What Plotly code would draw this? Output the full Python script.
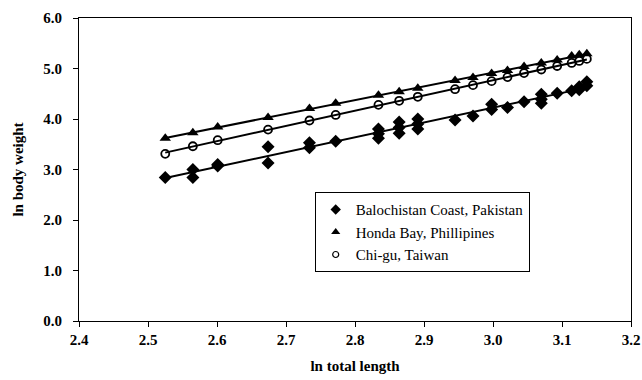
import numpy as np
import plotly.graph_objects as go

# Balochistan Coast, Pakistan
bal_x = [2.525, 2.565, 2.565, 2.601, 2.601, 2.674, 2.674, 2.734, 2.734, 2.772,
         2.834, 2.834, 2.834, 2.864, 2.864, 2.864, 2.891, 2.891, 2.891, 2.945,
         2.971, 2.998, 2.998, 3.021, 3.045, 3.070, 3.070, 3.070, 3.093, 3.114,
         3.125, 3.125, 3.136, 3.136]
bal_y = [2.84, 3.00, 2.84, 3.10, 3.07, 3.45, 3.13, 3.53, 3.43, 3.56,
         3.80, 3.71, 3.62, 3.94, 3.83, 3.72, 4.00, 3.90, 3.80, 3.98,
         4.06, 4.29, 4.19, 4.23, 4.34, 4.49, 4.39, 4.31, 4.51, 4.56,
         4.64, 4.58, 4.74, 4.66]

# Honda Bay, Phillipines
hon_x = [2.525, 2.565, 2.601, 2.674, 2.734, 2.772, 2.834, 2.864, 2.891, 2.945,
         2.971, 2.998, 3.021, 3.045, 3.070, 3.093, 3.114, 3.125, 3.136]
hon_y = [3.62, 3.73, 3.84, 4.03, 4.21, 4.31, 4.47, 4.54, 4.61, 4.76,
         4.82, 4.90, 4.96, 5.04, 5.11, 5.17, 5.25, 5.27, 5.29]

# Chi-gu, Taiwan
chi_x = hon_x
chi_y = [3.31, 3.46, 3.58, 3.79, 3.97, 4.08, 4.28, 4.36, 4.44, 4.59,
         4.67, 4.75, 4.83, 4.91, 4.98, 5.05, 5.11, 5.15, 5.19]

series_names = ["Balochistan Coast, Pakistan", "Honda Bay, Phillipines", "Chi-gu, Taiwan"]

x_ticks = [2.4, 2.5, 2.6, 2.7, 2.8, 2.9, 3.0, 3.1, 3.2]
x_tick_labels = ["2.4", "2.5", "2.6", "2.7", "2.8", "2.9", "3.0", "3.1", "3.2"]
y_ticks = [0, 1, 2, 3, 4, 5, 6]
y_tick_labels = ["0.0", "1.0", "2.0", "3.0", "4.0", "5.0", "6.0"]

SERIF = "Liberation Serif, Times New Roman, serif"

fig = go.Figure()

def add_fit(xs, ys):
    xs = np.asarray(xs); ys = np.asarray(ys)
    b, a = np.polyfit(xs, ys, 1)
    lx = np.array([xs.min(), xs.max()])
    fig.add_trace(go.Scatter(x=lx, y=a + b * lx, mode="lines",
                             line=dict(color="black", width=2),
                             showlegend=False, hoverinfo="skip"))

add_fit(bal_x, bal_y)
add_fit(hon_x, hon_y)
add_fit(chi_x, chi_y)

styles = [
    dict(symbol="diamond", size=10, color="black"),
    dict(symbol="triangle-up", size=10, color="black"),
    dict(symbol="circle-open", size=8, color="black", line=dict(width=1.8, color="black")),
]
legend_styles = [
    dict(symbol="diamond", size=8, color="black"),
    dict(symbol="triangle-up", size=8, color="black"),
    dict(symbol="circle-open", size=6, color="black", line=dict(width=1.2, color="black")),
]

for (xs, ys), name, st in zip([(bal_x, bal_y), (hon_x, hon_y), (chi_x, chi_y)],
                              series_names, styles):
    fig.add_trace(go.Scatter(x=xs, y=ys, mode="markers", name=name,
                             marker=st, showlegend=False))

for name, st in zip(series_names, legend_styles):
    fig.add_trace(go.Scatter(x=[None], y=[None], mode="markers", name=name,
                             marker=st, showlegend=True))

axis_common = dict(showgrid=False, zeroline=False, showline=True, linecolor="black",
                   linewidth=1, mirror=True, ticks="outside", ticklen=5,
                   tickcolor="black", automargin=False,
                   tickfont=dict(family=SERIF, size=15, color="black"))

fig.update_layout(
    width=642, height=380,
    margin=dict(l=79, r=11, t=18, b=59),
    paper_bgcolor="white", plot_bgcolor="white",
    font=dict(family=SERIF, color="black"),
    showlegend=True,
    legend=dict(x=0.427, y=0.425, xanchor="left", yanchor="top",
                bordercolor="black", borderwidth=1, bgcolor="white",
                font=dict(family=SERIF, size=15, color="black"),
                tracegroupgap=0, itemsizing="trace",
                entrywidth=185, entrywidthmode="pixels"),
    xaxis=dict(range=[2.4, 3.2], tickvals=x_ticks,
               ticktext=["<b>%s</b>" % t for t in x_tick_labels],
               title=dict(text="<b>ln total length</b>", standoff=13,
                          font=dict(family=SERIF, size=15, color="black")),
               **axis_common),
    yaxis=dict(range=[0, 6], tickvals=y_ticks,
               ticktext=["<b>%s</b>" % t for t in y_tick_labels],
               ticklabelstandoff=8,
               title=dict(text="<b>ln body weight</b>", standoff=16,
                          font=dict(family=SERIF, size=15, color="black")),
               **axis_common),
)

fig.write_html("out.html")
